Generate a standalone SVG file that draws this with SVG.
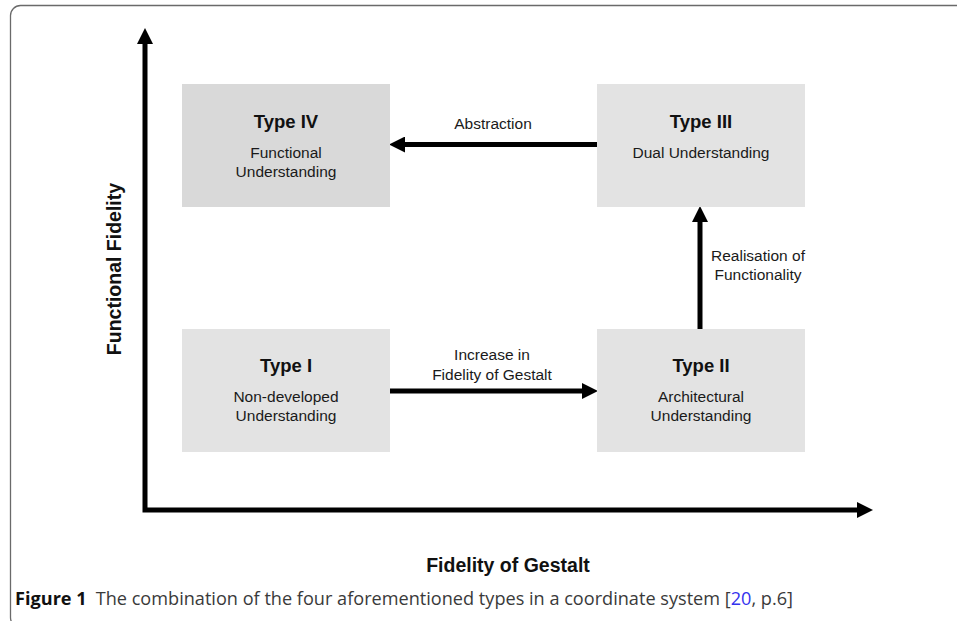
<svg xmlns="http://www.w3.org/2000/svg" width="957" height="621" viewBox="0 0 957 621">
  <style>
    .box { stroke: none; }
    .t-title { font-family: "Liberation Sans", Arial, sans-serif; font-weight: bold; font-size: 18.5px; fill: #111; text-anchor: middle; }
    .t-body { font-family: "Liberation Sans", Arial, sans-serif; font-size: 15.5px; fill: #1a1a1a; text-anchor: middle; }
    .t-axis { font-family: "Liberation Sans", Arial, sans-serif; font-weight: bold; font-size: 19.5px; fill: #111; text-anchor: middle; }
    .edge { fill: none; stroke: #000; stroke-width: 5; }
    .cap { font-family: "Open Sans", "Noto Sans", sans-serif; font-size: 18px; fill: #3a3a3a; }
  </style>
  <defs>
    <marker id="head" markerUnits="userSpaceOnUse" markerWidth="16" markerHeight="16" viewBox="0 0 15 15" refX="0" refY="7.5" orient="auto-start-reverse">
      <path d="M0,0 L15,7.5 L0,15 z" fill="#000"/>
    </marker>
  </defs>

  <rect width="957" height="621" fill="#fff"/>
  <!-- figure frame -->
  <rect x="10.5" y="5.5" width="1000" height="622" rx="10" fill="none" stroke="#6a6a6a" stroke-width="1.3"/>

  <!-- connectors -->
  <g id="connectors">
    <path class="edge" d="M145,44 L145,510 L857,510" stroke-linejoin="miter" marker-start="url(#head)" marker-end="url(#head)"/>
    <path class="edge" d="M597,144.5 L405,144.5" marker-end="url(#head)"/>
    <path class="edge" d="M390,391 L582,391" marker-end="url(#head)"/>
    <path class="edge" d="M700,329 L700,222" marker-end="url(#head)"/>
    <text class="t-body" x="493" y="129">Abstraction</text>
    <text class="t-body" x="492" y="360">Increase in</text>
    <text class="t-body" x="492" y="380">Fidelity of Gestalt</text>
    <text class="t-body" x="758" y="261">Realisation of</text>
    <text class="t-body" x="758" y="280">Functionality</text>
  </g>

  <g id="type-iv">
    <rect class="box" x="182" y="84" width="208" height="123" fill="#d9d9d9"/>
    <text class="t-title" x="286" y="128">Type IV</text>
    <text class="t-body" x="286" y="158">Functional</text>
    <text class="t-body" x="286" y="177">Understanding</text>
  </g>

  <g id="type-iii">
    <rect class="box" x="597" y="84" width="208" height="123" fill="#e3e3e3"/>
    <text class="t-title" x="701" y="128">Type III</text>
    <text class="t-body" x="701" y="158">Dual Understanding</text>
  </g>

  <g id="type-i">
    <rect class="box" x="182" y="329" width="208" height="123" fill="#e3e3e3"/>
    <text class="t-title" x="286" y="372">Type I</text>
    <text class="t-body" x="286" y="402">Non-developed</text>
    <text class="t-body" x="286" y="421">Understanding</text>
  </g>

  <g id="type-ii">
    <rect class="box" x="597" y="329" width="208" height="123" fill="#e3e3e3"/>
    <text class="t-title" x="701" y="372">Type II</text>
    <text class="t-body" x="701" y="402">Architectural</text>
    <text class="t-body" x="701" y="421">Understanding</text>
  </g>

  <!-- axis titles -->
  <text class="t-axis" transform="translate(121,269) rotate(-90)">Functional Fidelity</text>
  <text class="t-axis" x="508" y="572">Fidelity of Gestalt</text>

  <!-- caption -->
  <text class="cap" x="15" y="605" textLength="778" lengthAdjust="spacingAndGlyphs"><tspan font-weight="bold" fill="#111">Figure 1</tspan><tspan dx="9">The combination of the four aforementioned types in a coordinate system [</tspan><tspan fill="#3333ee">20</tspan><tspan>, p.6]</tspan></text>
</svg>
